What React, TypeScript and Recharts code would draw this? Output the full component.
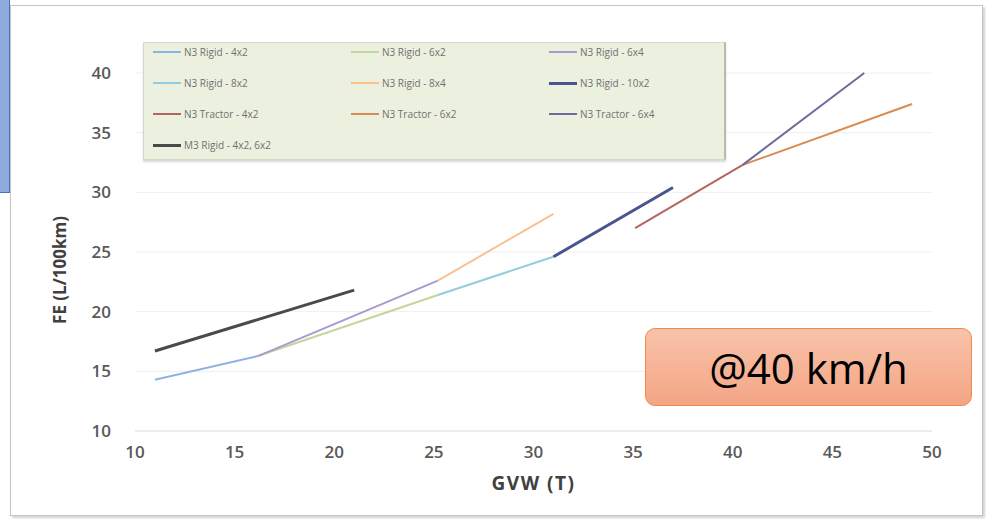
import { LineChart, Line, XAxis, YAxis, CartesianGrid, Label } from 'recharts'

// GVW (T) on x, FE (L/100km) on y
const n3Rigid4x2Gvw = [11, 16.2]
const n3Rigid4x2Fe = [14.3, 16.3]
const n3Rigid6x2Gvw = [16.2, 25.2]
const n3Rigid6x2Fe = [16.3, 21.4]
const n3Rigid6x4Gvw = [16.2, 25.2]
const n3Rigid6x4Fe = [16.3, 22.6]
const n3Rigid8x2Gvw = [25.2, 31]
const n3Rigid8x2Fe = [21.4, 24.6]
const n3Rigid8x4Gvw = [25.2, 31]
const n3Rigid8x4Fe = [22.6, 28.2]
const n3Rigid10x2Gvw = [31, 37]
const n3Rigid10x2Fe = [24.6, 30.4]
const n3Tractor4x2Gvw = [35.1, 40.5]
const n3Tractor4x2Fe = [27.0, 32.3]
const n3Tractor6x2Gvw = [40.5, 49]
const n3Tractor6x2Fe = [32.3, 37.4]
const n3Tractor6x4Gvw = [40.5, 46.6]
const n3Tractor6x4Fe = [32.3, 40]
const m3RigidGvw = [11, 21]
const m3RigidFe = [16.7, 21.8]

const xTicks = [10, 15, 20, 25, 30, 35, 40, 45, 50]
const yTicks = [10, 15, 20, 25, 30, 35, 40]

const toPoints = (gvw: number[], fe: number[]) => gvw.map((x, i) => ({ x, y: fe[i] }))

const series = [
  { name: 'N3 Rigid - 4x2', data: toPoints(n3Rigid4x2Gvw, n3Rigid4x2Fe), color: '#8db3e2', width: 2 },
  { name: 'N3 Rigid - 6x2', data: toPoints(n3Rigid6x2Gvw, n3Rigid6x2Fe), color: '#c3d69b', width: 2 },
  { name: 'N3 Rigid - 6x4', data: toPoints(n3Rigid6x4Gvw, n3Rigid6x4Fe), color: '#a99bd0', width: 2 },
  { name: 'N3 Rigid - 8x2', data: toPoints(n3Rigid8x2Gvw, n3Rigid8x2Fe), color: '#93cddd', width: 2 },
  { name: 'N3 Rigid - 8x4', data: toPoints(n3Rigid8x4Gvw, n3Rigid8x4Fe), color: '#fac090', width: 2 },
  { name: 'N3 Rigid - 10x2', data: toPoints(n3Rigid10x2Gvw, n3Rigid10x2Fe), color: '#4a5590', width: 3 },
  { name: 'N3 Tractor - 4x2', data: toPoints(n3Tractor4x2Gvw, n3Tractor4x2Fe), color: '#b5655f', width: 2 },
  { name: 'N3 Tractor - 6x2', data: toPoints(n3Tractor6x2Gvw, n3Tractor6x2Fe), color: '#d98b52', width: 2 },
  { name: 'N3 Tractor - 6x4', data: toPoints(n3Tractor6x4Gvw, n3Tractor6x4Fe), color: '#6b6b9e', width: 2 },
  { name: 'M3 Rigid - 4x2, 6x2', data: toPoints(m3RigidGvw, m3RigidFe), color: '#4a4a4a', width: 3 },
]

const font = '"Open Sans", "DejaVu Sans", sans-serif'

// legend drawn like the excel one: 3 columns, light green box
const LegendBox = () => (
  <div
    style={{
      position: 'absolute',
      left: 143,
      top: 42,
      width: 580,
      height: 116,
      background: '#ebf1de',
      border: '1px solid #d4d9c8',
      borderRight: '2px solid #b8bcae',
      boxShadow: '0 2px 2px #d8d8d8',
      fontFamily: font,
      fontSize: 10,
      color: '#707070',
    }}
  >
    {series.map((s, i) => (
      <div
        key={s.name}
        style={{
          position: 'absolute',
          left: 9 + (i % 3) * 198,
          top: 1 + Math.floor(i / 3) * 31,
          display: 'flex',
          alignItems: 'center',
          height: 16,
          whiteSpace: 'nowrap',
        }}
      >
        <span style={{ display: 'inline-block', width: 28, height: s.width, background: s.color, marginRight: 3 }} />
        {s.name}
      </div>
    ))}
  </div>
)

const tickStyle = { fill: '#595959', fontSize: 17, fontFamily: font, fontWeight: 600 }

export default function App() {
  return (
    <div style={{ position: 'absolute', left: 0, top: 0, width: 986, height: 519, background: '#fff', overflow: 'hidden' }}>
      {/* slide frame */}
      <div
        style={{
          position: 'absolute',
          left: 10,
          top: 5,
          width: 971,
          height: 509,
          border: '1px solid #c6c6c6',
          boxShadow: '2px 2px 3px #d0d0d0',
        }}
      />
      {/* blue shape cut at the left edge */}
      <div
        style={{
          position: 'absolute',
          left: -2,
          top: -2,
          width: 10,
          height: 193,
          background: '#8faadc',
          border: '1px solid #4472c4',
        }}
      />
      <div style={{ position: 'absolute', left: 0, top: 0 }}>
        <LineChart width={986} height={519} margin={{ top: 73, right: 54, left: 0, bottom: 28 }}>
          <CartesianGrid vertical={false} stroke="#efefef" />
          <XAxis
            type="number"
            dataKey="x"
            domain={[10, 50]}
            ticks={xTicks}
            height={60}
            axisLine={{ stroke: '#e4e4e4' }}
            tickLine={false}
            tickMargin={9}
            tick={tickStyle}
          >
            <Label
              value="GVW (T)"
              position="insideBottom"
              offset={1}
              style={{ fill: '#404040', fontSize: 19, fontFamily: font, fontWeight: 700, letterSpacing: 1.5 }}
            />
          </XAxis>
          <YAxis
            type="number"
            dataKey="y"
            domain={[10, 40]}
            ticks={yTicks}
            width={135}
            axisLine={false}
            tickLine={false}
            tickMargin={18}
            tick={tickStyle}
          >
            <Label
              value="FE (L/100km)"
              position="center"
              angle={-90}
              dx={-8}
              dy={18}
              style={{ fill: '#404040', fontSize: 17, fontFamily: font, fontWeight: 700 }}
            />
          </YAxis>
          {series.map((s) => (
            <Line
              key={s.name}
              name={s.name}
              data={s.data}
              dataKey="y"
              type="linear"
              stroke={s.color}
              strokeWidth={s.width}
              dot={false}
              activeDot={false}
              isAnimationActive={false}
            />
          ))}
        </LineChart>
      </div>
      <LegendBox />
      {/* speed callout */}
      <div
        style={{
          position: 'absolute',
          left: 645,
          top: 328,
          width: 325,
          height: 76,
          borderRadius: 10,
          border: '1.5px solid #ef8a4a',
          background: 'linear-gradient(#f8c3aa, #f4a585)',
          display: 'flex',
          alignItems: 'center',
          justifyContent: 'center',
          fontFamily: font,
          fontSize: 42,
          color: '#000',
        }}
      >
        @40 km/h
      </div>
    </div>
  )
}
